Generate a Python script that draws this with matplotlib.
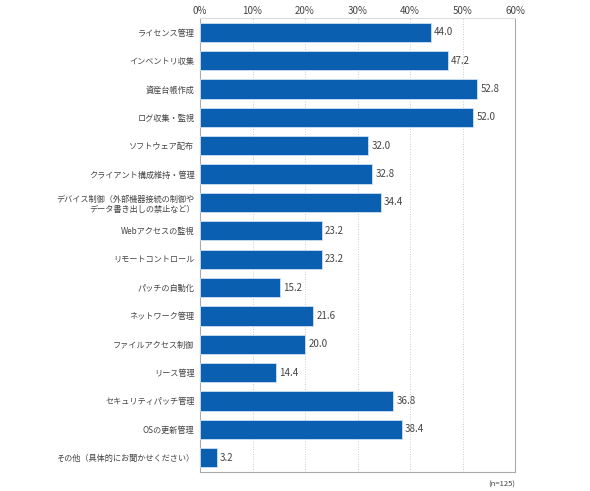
import matplotlib
matplotlib.use("Agg")
import matplotlib.pyplot as plt
from matplotlib.ticker import FuncFormatter

plt.rcParams['font.family'] = ['Noto Sans CJK JP', 'DejaVu Sans']

categories = [
    "ライセンス管理",
    "インベントリ収集",
    "資産台帳作成",
    "ログ収集・監視",
    "ソフトウェア配布",
    "クライアント構成維持・管理",
    "デバイス制御（外部機器接続の制御や\nデータ書き出しの禁止など）",
    "Webアクセスの監視",
    "リモートコントロール",
    "パッチの自動化",
    "ネットワーク管理",
    "ファイルアクセス制御",
    "リース管理",
    "セキュリティパッチ管理",
    "OSの更新管理",
    "その他（具体的にお聞かせください）",
]
values = [44.0, 47.2, 52.8, 52.0, 32.0, 32.8, 34.4, 23.2, 23.2, 15.2,
          21.6, 20.0, 14.4, 36.8, 38.4, 3.2]
ticks = [0, 10, 20, 30, 40, 50, 60]

fig = plt.figure(figsize=(5.9, 4.91), dpi=100)
ax = fig.add_axes([0.339, 0.039, 0.534, 0.924])

y = list(range(len(categories)))
ax.barh(y, values, height=0.68, color="#0b5fb1", edgecolor="#cfe0f2", linewidth=0.6, zorder=3)
for yi, v in zip(y, values):
    ax.text(v + 0.6, yi, f"{v:.1f}", va="center", ha="left", fontsize=7, color="#444444")

ax.set_ylim(len(categories) - 0.5, -0.5)
ax.set_xlim(0, 60)
ax.set_yticks(y)
ax.set_yticklabels(categories, fontsize=5.9, color="#444444", linespacing=1.15)
ax.set_xticks(ticks)
ax.xaxis.set_major_formatter(FuncFormatter(lambda x, p: f"{int(x)}%"))
ax.xaxis.tick_top()
ax.tick_params(axis="x", length=0, labelsize=7, labelcolor="#444444", pad=1.5)
ax.tick_params(axis="y", length=0, pad=4)
ax.grid(axis="x", linestyle=(0, (1, 2)), color="#bbbbbb", linewidth=0.6, zorder=0)
for s in ax.spines.values():
    s.set_color("#aaaaaa")
    s.set_linewidth(0.8)
ax.spines["top"].set_color("#dddddd")

fig.text(0.873, 0.005, "(n=125)", ha="right", va="bottom", fontsize=5.5, color="#444444")

fig.savefig("out.png", dpi=100)
